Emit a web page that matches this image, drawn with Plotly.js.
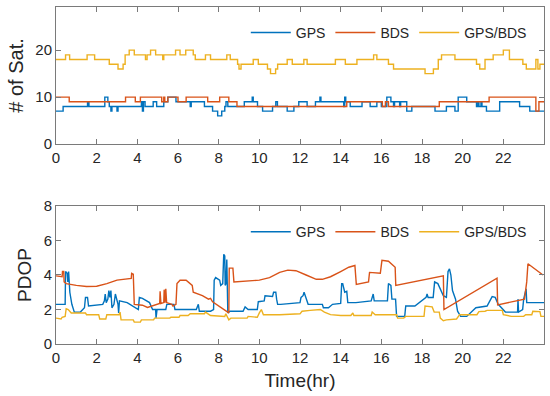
<!DOCTYPE html>
<html>
<head>
<meta charset="utf-8">
<script src="https://cdn.plot.ly/plotly-3.0.1.min.js"></script>
<style>html,body{margin:0;padding:0;background:#fff;}#chart{width:550px;height:396px;}</style>
</head>
<body>
<div id="chart"></div>
<script>
// ---------- Data: number of satellites (step series, change points) ----------
const satGpsT = [0,0.35,1.55,1.62,2.4,2.55,2.62,2.7,2.75,3.0,3.05,4.2,4.25,4.3,4.38,4.78,4.95,5.3,5.5,5.9,6.6,6.65,7.3,7.7,7.95,8.15,8.3,8.36,8.45,9.26,9.65,9.7,9.91,10.16,10.65,10.81,10.89,11.37,11.7,11.94,12.35,12.76,12.98,13.03,14.15,14.2,14.25,14.47,15.05,15.45,15.78,16.0,16.27,16.47,16.6,16.65,16.9,16.95,17.25,17.5,18.64,19.2,19.62,19.78,20.2,20.68,20.75,20.8,20.9,20.95,21.17,21.82,22.8,23.3,24];
const satGpsV = [7,8,9,8,10,9,8,7,8,7,8,9,7,9,8,9,8,9,10,9,8,9,8,7,6,7,8,9,8,9,10,9,8,7,8,9,8,7,8,9,8,9,10,9,8,10,9,8,9,8,9,8,10,9,8,9,8,9,7,8,7,8,7,10,9,8,9,8,9,8,7,9,8,7,7];
const satBdsT = [0,0.65,3.42,3.9,4.15,5.2,5.3,5.35,5.5,6.0,6.4,7.46,8.05,8.5,8.9,14.3,16.05,16.2,16.35,18.85,21.3,23.6,23.75,24];
const satBdsV = [10,9,10,9,10,9,10,9,10,9,10,9,10,9,8,9,8,9,8,9,10,7,9,9];
const satBothT = [0,0.47,0.67,1.53,1.9,2.62,3.05,3.3,3.4,3.6,3.85,4.4,4.48,4.65,4.9,5.25,5.3,5.88,6.1,6.38,6.75,6.85,7.35,7.6,8.4,8.57,8.93,9.0,9.1,9.7,9.95,10.4,10.55,10.8,10.9,11.37,11.62,12.19,12.35,13.74,14.23,14.8,15.62,15.78,16.35,16.6,18.15,18.56,18.8,18.96,19.62,20.68,20.84,21.1,21.5,22.0,22.3,22.96,23.13,23.6,23.7,23.8,24];
const satBothV = [18,19,18,19,18,17,16,17,19,20,19,18,19,20,19,18,19,20,19,20,19,18,19,18,19,18,17,16,17,18,17,16,15,16,17,18,17,18,17,18,17,18,19,18,17,16,15,16,18,19,18,17,16,18,19,20,18,17,16,18,16,17,17];

// ---------- Data: PDOP ----------
const pdopGpsT = [0,0.45,0.47,0.55,0.58,0.62,0.68,0.78,0.9,1.2,1.4,1.45,1.55,1.6,2.3,2.38,2.42,2.47,2.55,2.6,2.65,2.7,2.75,2.85,2.92,3.0,3.05,3.08,3.12,3.5,3.8,4.05,4.1,4.25,4.6,4.75,4.9,4.92,4.97,5.4,5.45,5.8,5.85,6.9,7.0,7.05,7.6,7.75,7.78,7.85,8.05,8.1,8.2,8.25,8.3,8.32,8.36,8.4,8.45,8.55,9.2,9.3,9.45,9.9,9.95,10.24,10.28,10.65,10.7,10.81,10.85,10.9,11.05,11.5,12.0,12.05,12.15,12.2,12.25,12.4,13.1,13.15,13.4,13.6,14.0,14.05,14.1,14.2,14.3,14.35,14.75,15.5,15.6,15.65,16.3,16.35,16.47,16.52,16.7,16.75,17.15,17.2,17.65,18.2,18.25,18.3,18.55,18.62,18.78,19.05,19.2,19.28,19.35,19.42,19.5,19.65,19.75,19.9,20.2,20.5,20.65,21.2,21.45,21.6,21.75,22.1,22.7,22.72,22.75,22.95,23.0,23.12,23.15,24];
const pdopGpsV = [2.3,2.3,4.2,4.1,3.6,4.2,3.0,2.3,1.85,1.85,2.1,2.7,2.7,2.2,2.3,2.5,2.9,2.4,2.6,3.1,2.7,3.1,2.1,2.3,2.9,2.5,2.3,1.8,2.5,2.4,2.2,2.0,2.7,2.65,2.4,2.0,2.0,1.5,2.0,2.0,2.3,2.3,2.0,2.0,2.3,1.9,1.9,2.0,3.7,3.85,3.7,3.4,3.5,5.2,5.1,3.4,3.5,4.9,1.8,1.9,1.9,2.15,2.0,2.0,2.45,2.5,2.8,2.75,3.0,3.0,2.6,2.3,2.3,2.35,2.4,2.7,2.8,3.0,2.8,2.3,2.3,2.1,2.1,2.3,2.35,3.5,3.5,3.0,3.05,2.4,2.4,2.5,2.9,2.5,2.5,3.5,3.4,2.6,2.6,1.6,1.6,2.2,2.2,2.7,2.9,2.7,2.7,3.6,3.5,2.8,2.7,4.2,4.35,4.0,3.1,2.6,1.9,1.6,1.6,1.9,2.1,2.2,2.75,2.7,2.3,1.85,1.85,2.6,1.85,2.0,2.6,3.2,2.4,2.4];
const pdopBdsT = [0,0.3,0.32,0.38,0.4,0.5,1.0,1.5,2.0,2.5,3.0,3.5,3.7,3.72,3.8,3.85,4.25,4.5,5.0,5.1,5.12,5.16,5.3,5.32,5.36,5.4,5.44,5.7,5.75,5.9,5.95,6.1,6.4,6.7,6.75,7.2,7.5,7.6,7.7,8.0,8.5,8.52,8.7,8.75,9.5,10.0,10.5,11.0,11.4,11.8,12.3,12.8,13.1,13.5,14.0,14.4,14.7,14.77,15.37,15.42,15.95,16.03,16.35,16.68,16.71,19.05,19.08,21.69,21.72,23.04,23.15,23.21,23.95];
const pdopBdsV = [3.95,3.9,4.2,4.2,3.6,3.5,3.4,3.33,3.35,3.5,3.7,3.8,3.8,4.1,4.05,2.3,2.25,2.12,2.3,2.35,3.05,2.35,2.4,3.15,2.4,3.2,2.4,2.3,2.2,2.3,3.5,3.7,3.7,3.4,3.0,2.8,2.6,2.65,2.45,2.2,1.8,4.4,4.4,3.6,3.65,3.7,3.85,4.15,4.28,4.25,4.0,3.75,3.75,3.9,4.2,4.45,4.55,3.45,3.6,4.15,4.1,4.85,4.8,4.45,3.4,3.95,2.0,3.82,2.27,2.6,3.6,4.65,4.0];
const pdopBothT = [0,0.25,0.3,0.45,0.5,0.6,0.75,1.45,1.5,2.1,2.15,2.45,2.5,3.1,3.15,3.2,3.8,3.85,4.15,4.2,4.8,4.85,5.6,5.65,6.05,6.1,6.5,6.6,7.3,7.35,7.6,8.0,8.3,8.35,8.5,8.6,9.4,9.45,9.9,10.0,10.1,10.2,11.0,12.0,12.1,12.5,13.0,13.2,13.5,14.0,14.5,14.6,14.65,15.5,15.55,15.7,16.75,16.8,17.1,17.2,18.1,18.15,18.5,18.6,18.85,18.9,19.05,19.2,19.7,19.85,20.7,20.8,21.1,21.2,21.95,22.0,22.4,23.0,23.1,23.4,23.45,23.8,23.85,24];
const pdopBothV = [1.5,1.45,1.55,1.6,2.05,2.0,1.8,1.8,1.7,1.7,1.45,1.45,1.7,1.7,1.85,1.4,1.4,1.27,1.27,1.4,1.4,1.5,1.5,1.55,1.55,1.65,1.65,1.75,1.75,1.85,1.65,1.6,1.6,1.75,1.4,1.5,1.5,1.6,1.55,1.8,2.0,1.7,1.7,1.75,1.9,1.95,2.0,1.85,1.7,1.65,1.65,1.8,1.65,1.65,1.85,1.7,1.7,1.5,1.5,1.6,1.6,2.2,2.15,1.85,1.85,1.5,1.35,1.4,1.45,1.7,1.7,1.88,1.9,1.95,1.95,1.7,1.6,1.6,1.7,1.7,1.9,1.88,1.6,1.6];

const seriesNames = ['GPS','BDS','GPS/BDS'];
const xTicks = [0,2,4,6,8,10,12,14,16,18,20,22];
const satTicks = [0,10,20];
const pdopTicks = [0,2,4,6,8];

const colors = ['#0072BD','#D95319','#EDB120'];
const lw = 1.4;

function tr(x,y,i,xa,ya,leg,shape){
  return {x:x,y:y,type:'scatter',mode:'lines',name:seriesNames[i],xaxis:xa,yaxis:ya,legend:leg,
    line:{color:colors[i],width:lw,shape:shape}};
}
const data = [
  tr(satGpsT,satGpsV,0,'x','y','legend','hv'),
  tr(satBdsT,satBdsV,1,'x','y','legend','hv'),
  tr(satBothT,satBothV,2,'x','y','legend','hv'),
  tr(pdopGpsT,pdopGpsV,0,'x2','y2','legend2','linear'),
  tr(pdopBdsT,pdopBdsV,1,'x2','y2','legend2','linear'),
  tr(pdopBothT,pdopBothV,2,'x2','y2','legend2','linear')
];

const frame = '#7a7a7a';
const tickFont = {family:'Liberation Sans, Arial, sans-serif', size:15, color:'#262626'};
function xax(anchor, dom, title){
  const a = {domain:[0,1], anchor:anchor, range:[0,24], tickvals:xTicks, ticktext:xTicks.map(String),
    ticks:'inside', ticklen:5, tickcolor:frame, showline:true, linecolor:frame, linewidth:1, mirror:'ticks',
    showgrid:false, zeroline:false, tickfont:tickFont, automargin:false};
  if(title) a.title = {text:title, font:{family:'Liberation Sans, Arial, sans-serif', size:19, color:'#262626'}, standoff:8};
  return a;
}
function yax(anchor, dom, range, ticks, title, fs){
  return {domain:dom, anchor:anchor, range:range, tickvals:ticks, ticktext:ticks.map(String),
    ticks:'inside', ticklen:5, tickcolor:frame, showline:true, linecolor:frame, linewidth:1, mirror:'ticks',
    showgrid:false, zeroline:false, tickfont:tickFont, automargin:false,
    title:{text:title, font:{family:'Liberation Sans, Arial, sans-serif', size:fs, color:'#262626'}, standoff:6}};
}
const legFont = {family:'Liberation Sans, Arial, sans-serif', size:14, color:'#262626'};
const layout = {
  width:550, height:396,
  margin:{l:56, r:6, t:7, b:52},
  paper_bgcolor:'#fff', plot_bgcolor:'#fff',
  showlegend:true,
  xaxis: xax('y',[0,1],null),
  yaxis: yax('x',[0.5935,1],[0,29.2],satTicks,'# of Sat.',20),
  xaxis2: xax('y2',[0,1],'Time(hr)'),
  yaxis2: yax('x2',[0,0.4095],[0,8],pdopTicks,'PDOP',19),
  legend:{orientation:'h', x:0.975, xanchor:'right', y:0.923, yanchor:'middle', itemwidth:40, bgcolor:'rgba(0,0,0,0)', font:legFont, borderwidth:0},
  legend2:{orientation:'h', x:0.975, xanchor:'right', y:0.332, yanchor:'middle', itemwidth:40, bgcolor:'rgba(0,0,0,0)', font:legFont, borderwidth:0}
};
Plotly.newPlot('chart', data, layout, {staticPlot:true, displayModeBar:false});
</script>
</body>
</html>
